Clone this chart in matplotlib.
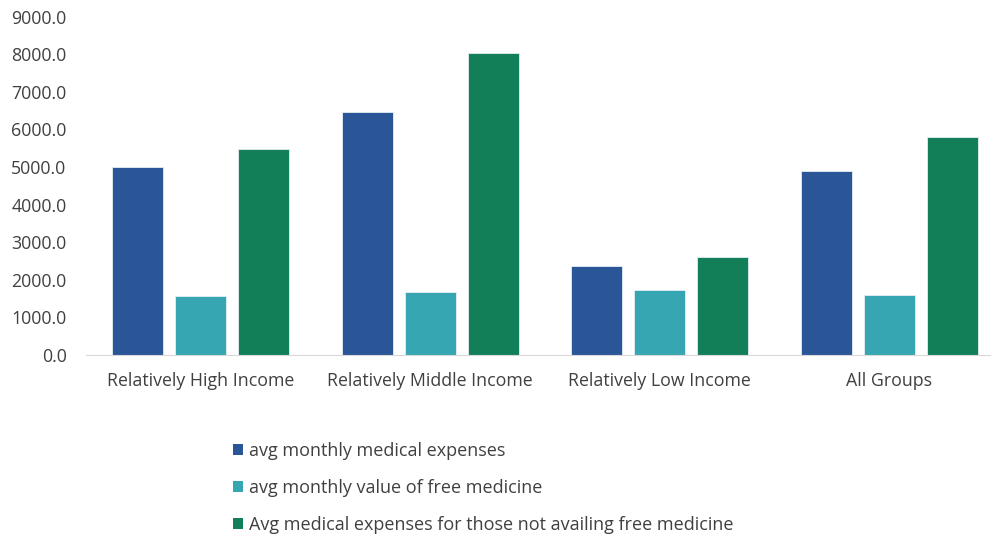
import numpy as np
import matplotlib.pyplot as plt
from matplotlib.patches import Patch

plt.rcParams['font.family'] = ['Open Sans', 'DejaVu Sans']

groups = ['Relatively High Income', 'Relatively Middle Income', 'Relatively Low Income', 'All Groups']
series_names = ['avg monthly medical expenses',
                'avg monthly value of free medicine',
                'Avg medical expenses for those not availing free medicine']
medical = [5010, 6460, 2360, 4890]
free_medicine = [1580, 1680, 1730, 1590]
not_availing = [5470, 8040, 2620, 5790]
colors = ['#2a5597', '#36a6b2', '#127f58']

fig = plt.figure(figsize=(9.91, 5.40), dpi=100)
ax = fig.add_axes([86 / 991, 185 / 540, 918 / 991, 338.3 / 540])

x = np.arange(len(groups))
step = 0.275
width = 0.222
for i, vals in enumerate([medical, free_medicine, not_availing]):
    ax.bar(x + (i - 1) * step, vals, width, color=colors[i],
           edgecolor='#e6eef5', linewidth=0.6, label=series_names[i])

ax.set_xlim(-0.5, 3.5)
ax.set_ylim(0, 9000)
ax.set_yticks(np.arange(0, 9001, 1000))
ax.set_yticklabels([f'{v:.1f}' for v in np.arange(0, 9001, 1000)])
ax.set_xticks(x)
ax.set_xticklabels(groups)
ax.tick_params(axis='both', length=0, labelsize=12.8, colors='#404040')
ax.tick_params(axis='x', pad=12)
ax.tick_params(axis='y', pad=14)
for s in ['top', 'right', 'left']:
    ax.spines[s].set_visible(False)
ax.spines['bottom'].set_color('#d9d9d9')

# legend sits below the axes, stacked vertically
handles = [Patch(facecolor=c) for c in colors]
fig.legend(handles, series_names, loc='upper left', bbox_to_anchor=(233 / 991, 1 - 442 / 540),
           frameon=False, handlelength=0.55, handleheight=0.55, handletextpad=0.35,
           labelspacing=1.05, fontsize=13, labelcolor='#404040', borderpad=0, borderaxespad=0)

fig.savefig('out.png', dpi=100)
